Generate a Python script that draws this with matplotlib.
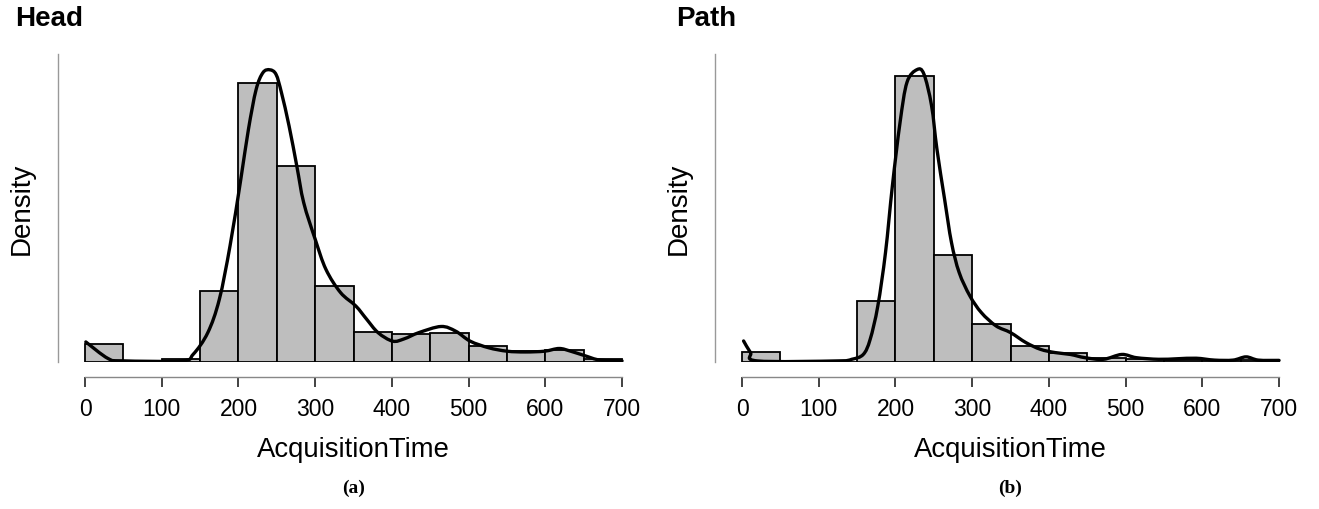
import numpy as np
import matplotlib
matplotlib.use("Agg")
import matplotlib.pyplot as plt
from matplotlib.path import Path
from matplotlib.patches import PathPatch

plt.rcParams['font.family'] = ['Liberation Sans', 'DejaVu Sans']

# histogram bins (width 50) and densities (x 1e-3)
bin_left = [0, 50, 100, 150, 200, 250, 300, 350, 400, 450, 500, 550, 600, 650]
head_dens = [0.46, 0.0, 0.07, 1.84, 7.24, 5.08, 1.97, 0.79, 0.72, 0.76, 0.41, 0.28, 0.31, 0.07]
path_dens = [0.38, 0.0, 0.0, 2.27, 10.60, 3.97, 1.40, 0.59, 0.32, 0.16, 0.10, 0.07, 0.06, 0.06]

# density curves, points (x 1e-3)
head_kx = [1, 30, 49, 126, 141, 160, 175, 189, 203, 213, 223, 232, 241, 249, 256, 266,
           276, 285, 300, 314, 333, 353, 367, 382, 401, 416, 435, 464, 483, 502, 526,
           550, 574, 599, 618, 633, 652, 671, 700]
head_ky = [0.52, 0.09, 0.03, 0.03, 0.20, 0.76, 1.62, 3.01, 4.73, 6.03, 7.06, 7.50, 7.57,
           7.45, 6.98, 6.11, 5.08, 4.13, 3.18, 2.40, 1.80, 1.45, 1.11, 0.76, 0.54, 0.60,
           0.76, 0.92, 0.80, 0.54, 0.37, 0.28, 0.26, 0.28, 0.35, 0.28, 0.16, 0.05, 0.03]
path_kx = [2, 11, 20, 124, 143, 158, 167, 177, 187, 196, 206, 215, 228, 237, 247, 254,
           264, 273, 283, 297, 312, 331, 350, 370, 389, 408, 428, 447, 471, 495, 514,
           543, 567, 592, 616, 640, 657, 673, 700]
path_ky = [0.78, 0.35, 0.04, 0.04, 0.10, 0.28, 0.84, 2.08, 4.06, 6.54, 8.89, 10.37, 10.84,
           10.68, 9.51, 7.90, 6.04, 4.43, 3.32, 2.45, 1.83, 1.34, 1.09, 0.72, 0.47, 0.35,
           0.28, 0.16, 0.10, 0.28, 0.16, 0.10, 0.12, 0.14, 0.07, 0.07, 0.19, 0.07, 0.06]


def smooth_path(xs, ys):
    # catmull-rom through the read points, drawn as bezier segments
    p = np.column_stack([xs, ys]).astype(float)
    verts = [p[0]]
    codes = [Path.MOVETO]
    for k in range(len(p) - 1):
        p0 = p[k - 1] if k > 0 else p[k]
        p3 = p[k + 2] if k + 2 < len(p) else p[k + 1]
        c1 = p[k] + (p[k + 1] - p0) / 6
        c2 = p[k + 1] - (p3 - p[k]) / 6
        verts += [c1, c2, p[k + 1]]
        codes += [Path.CURVE4] * 3
    return Path(verts, codes)


panels = [("Head", "(a)", head_dens, head_kx, head_ky, 7.98),
          ("Path", "(b)", path_dens, path_kx, path_ky, 11.42)]
lefts = [58.2, 715.2]
title_x = [15, 676]

W, H = 1319, 510
fig = plt.figure(figsize=(W / 100, H / 100), dpi=100)

for i, (title, tag, dens, kx, ky, ytop) in enumerate(panels):
    ax = fig.add_axes([lefts[i] / W, (H - 363) / H, 590.7 / W, 308 / H])
    ax.bar(bin_left, dens, width=50, align='edge', color='#bebebe',
           edgecolor='black', linewidth=1.3)
    ax.add_patch(PathPatch(smooth_path(kx, ky), facecolor='none', edgecolor='black',
                           lw=2.4, joinstyle='round', capstyle='round'))
    ax.set_xlim(-35, 735)
    ax.set_ylim(0, ytop)

    ax.spines['top'].set_visible(False)
    ax.spines['right'].set_visible(False)
    ax.spines['left'].set_color('#999999')
    ax.spines['left'].set_linewidth(1.0)
    ax.spines['bottom'].set_position(('outward', 10.6))
    ax.spines['bottom'].set_bounds(0, 700)
    ax.spines['bottom'].set_color('#888888')
    ax.spines['bottom'].set_linewidth(1.0)
    ax.set_yticks([])
    ax.set_xticks(range(0, 701, 100))
    ax.tick_params(axis='x', direction='out', length=7.4, width=1.2, color='#222222',
                   labelsize=16.5, pad=7)

    ax.text(-0.0613, 0.5, "Density", transform=ax.transAxes, rotation=90,
            ha='center', va='center', fontsize=20)
    ax.text(0.5, -0.282, "AcquisitionTime", transform=ax.transAxes,
            ha='center', va='center', fontsize=19.8)

    fig.text(title_x[i] / W, (H - 19) / H, title, fontsize=20, fontweight='bold',
             ha='left', va='center')
    fig.text((lefts[i] + 295.3) / W, (H - 488) / H, tag, fontsize=14, fontweight='bold',
             family='Liberation Serif', ha='center', va='center')

fig.savefig("out.png", dpi=100)
